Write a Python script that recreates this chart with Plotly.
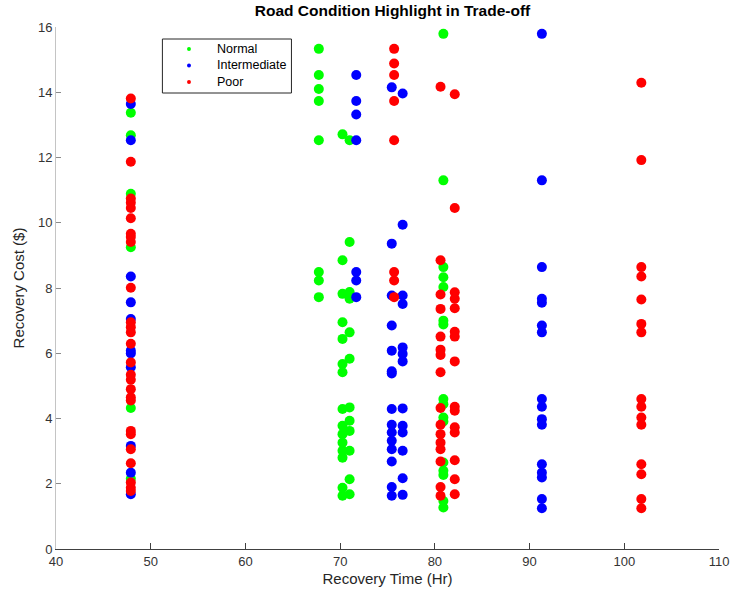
import plotly.graph_objects as go

# Normal (green)
normal_x = [47.9, 47.9, 47.9, 47.9, 47.9, 47.9,
            67.75, 67.75, 67.75, 67.75, 67.75, 67.75, 67.75, 67.75,
            70.25, 70.25, 70.25, 70.25, 70.25, 70.25, 70.25, 70.25, 70.25, 70.25, 70.25, 70.25, 70.25, 70.25, 70.25,
            71.0, 71.0, 71.0, 71.0, 71.0, 71.0, 71.0, 71.0, 71.0, 71.0, 71.0, 71.0,
            80.9, 80.9, 80.9, 80.9, 80.9, 80.9, 80.9, 80.9, 80.9, 80.9, 80.9, 80.9, 80.9, 80.9, 80.9, 80.9]
normal_y = [13.37, 12.68, 10.89, 9.25, 4.32, 2.15,
            15.33, 14.53, 14.10, 13.73, 12.53, 8.49, 8.23, 7.72,
            12.71, 8.85, 7.82, 6.95, 6.44, 5.67, 5.42, 4.29, 3.78, 3.52, 3.26, 3.01, 2.80, 1.88, 1.63,
            12.53, 9.41, 7.88, 7.67, 6.64, 5.83, 4.34, 3.93, 3.62, 3.01, 2.14, 1.68,
            15.79, 11.30, 8.64, 8.33, 8.03, 7.00, 6.88, 4.60, 4.44, 4.03, 3.91, 2.65, 2.40, 2.27, 1.47, 1.27]

# Intermediate (blue)
inter_x = [47.9, 47.9, 47.9, 47.9, 47.9, 47.9, 47.9, 47.9, 47.9, 47.9, 47.9,
           71.7, 71.7, 71.7, 71.7, 71.7, 71.7, 71.7,
           75.45, 75.45, 75.45, 75.45, 75.45, 75.45, 75.45, 75.45, 75.45, 75.45, 75.45, 75.45, 75.45, 75.45, 75.45,
           76.6, 76.6, 76.6, 76.6, 76.6, 76.6, 76.6, 76.6, 76.6, 76.6, 76.6, 76.6, 76.6,
           91.3, 91.3, 91.3, 91.3, 91.3, 91.3, 91.3, 91.3, 91.3, 91.3, 91.3, 91.3, 91.3, 91.3, 91.3, 91.3]
inter_y = [13.64, 12.53, 8.35, 7.56, 7.05, 6.08, 5.99, 5.57, 3.16, 2.34, 1.68,
           14.53, 13.73, 13.32, 12.53, 8.49, 8.23, 7.72,
           14.15, 9.36, 7.77, 6.85, 6.08, 5.45, 5.38, 4.29, 3.81, 3.57, 3.32, 3.06, 2.68, 1.90, 1.63,
           13.96, 9.94, 7.77, 7.51, 6.18, 5.98, 5.75, 4.31, 3.78, 3.57, 3.01, 2.17, 1.66,
           15.79, 11.30, 8.64, 7.67, 7.55, 6.85, 6.64, 4.60, 4.36, 3.98, 3.81, 2.60, 2.34, 2.19, 1.53, 1.25]

# Poor (red)
poor_x = [47.9, 47.9, 47.9, 47.9, 47.9, 47.9, 47.9, 47.9, 47.9, 47.9, 47.9, 47.9, 47.9, 47.9,
          47.9, 47.9, 47.9, 47.9, 47.9, 47.9, 47.9, 47.9, 47.9, 47.9, 47.9, 47.9, 47.9,
          75.7, 75.7, 75.7, 75.7, 75.7, 75.7, 75.7, 75.7,
          80.6, 80.6, 80.6, 80.6, 80.6, 80.6, 80.6, 80.6, 80.6, 80.6, 80.6, 80.6, 80.6, 80.6, 80.6, 80.6,
          82.1, 82.1, 82.1, 82.1, 82.1, 82.1, 82.1, 82.1, 82.1, 82.1, 82.1, 82.1, 82.1, 82.1, 82.1,
          101.8, 101.8, 101.8, 101.8, 101.8, 101.8, 101.8, 101.8, 101.8, 101.8, 101.8, 101.8, 101.8, 101.8, 101.8]
poor_y = [13.81, 11.87, 10.74, 10.61, 10.45, 10.14, 9.66, 9.56, 9.41, 8.01, 6.95, 6.80, 6.64, 6.29,
          5.72, 5.34, 5.19, 4.90, 4.65, 4.55, 3.62, 3.52, 3.06, 2.63, 2.04, 1.88, 1.78,
          15.33, 14.88, 14.53, 13.73, 12.53, 8.49, 8.23, 7.72,
          14.17, 8.85, 7.80, 7.36, 6.51, 6.11, 5.95, 5.42, 4.32, 3.81, 3.52, 3.26, 3.06, 2.68, 1.90, 1.63,
          13.94, 10.45, 7.87, 7.67, 7.38, 6.66, 6.51, 5.75, 4.36, 4.24, 3.73, 3.57, 2.72, 2.14, 1.68,
          14.29, 11.92, 8.64, 8.35, 7.65, 6.90, 6.64, 4.60, 4.36, 4.03, 3.81, 2.60, 2.29, 1.53, 1.25]

series_names = ["Normal", "Intermediate", "Poor"]
series_colors = ["#00ff00", "#0000ff", "#ff0000"]
series_x = [normal_x, inter_x, poor_x]
series_y = [normal_y, inter_y, poor_y]

x_ticks = [40, 50, 60, 70, 80, 90, 100, 110]
y_ticks = [0, 2, 4, 6, 8, 10, 12, 14, 16]

FONT = "Liberation Sans, Arial, Helvetica"
W, H = 738, 596
ML, MR, MT, MB = 56, 9, 27, 47
PW, PH = W - ML - MR, H - MT - MB


def px(x):
    return (x - ML) / PW


def py(y):
    return (H - MB - y) / PH


fig = go.Figure()
for name, col, xs, ys in zip(series_names, series_colors, series_x, series_y):
    fig.add_trace(go.Scatter(x=xs, y=ys, mode="markers", name=name, showlegend=False,
                             marker=dict(color=col, size=10, line=dict(width=0))))

# hand-drawn legend box (MATLAB style, compact rows)
shapes = [dict(type="rect", xref="paper", yref="paper",
               x0=px(164), x1=px(295), y0=py(93), y1=py(39),
               line=dict(color="#262626", width=1), fillcolor="white", layer="above")]
annotations = []
row_y = [49, 65.5, 82]
for name, col, ry in zip(series_names, series_colors, row_y):
    shapes.append(dict(type="circle", xref="paper", yref="paper",
                       x0=px(189), x1=px(193), y0=py(ry + 2), y1=py(ry - 2),
                       line=dict(width=0), fillcolor=col, layer="above"))
    annotations.append(dict(text=name, xref="paper", yref="paper", x=px(217), y=py(ry),
                            xanchor="left", yanchor="middle", showarrow=False,
                            font=dict(family=FONT, size=12.5, color="black")))

tickfont = dict(family=FONT, size=13, color="#333333")

fig.update_layout(
    width=W, height=H,
    margin=dict(l=ML, r=MR, t=MT, b=MB),
    paper_bgcolor="white", plot_bgcolor="white",
    title=dict(text="<b>Road Condition Highlight in Trade-off</b>", x=(ML + W - MR) / 2 / W,
               xanchor="center", y=1 - 11 / H, yanchor="middle",
               font=dict(family=FONT, size=15.5, color="black")),
    xaxis=dict(range=[40, 110], tickvals=x_ticks, showgrid=False, zeroline=False,
               showline=True, linecolor="#404040", linewidth=1,
               ticks="inside", ticklen=6, tickcolor="#404040", tickfont=tickfont,
               ticklabeloverflow="allow",
               title=dict(text="Recovery Time (Hr)", standoff=5,
                          font=dict(family=FONT, size=15, color="#262626"))),
    yaxis=dict(range=[0, 16], tickvals=y_ticks, showgrid=False, zeroline=False,
               showline=True, linecolor="#c4c4c4", linewidth=1,
               ticks="inside", ticklen=5, tickcolor="#8a8a8a", tickfont=tickfont,
               title=dict(text="Recovery Cost ($)", standoff=9,
                          font=dict(family=FONT, size=15, color="#262626"))),
    shapes=shapes,
    annotations=annotations,
    showlegend=False,
)

fig.write_html("out.html")
